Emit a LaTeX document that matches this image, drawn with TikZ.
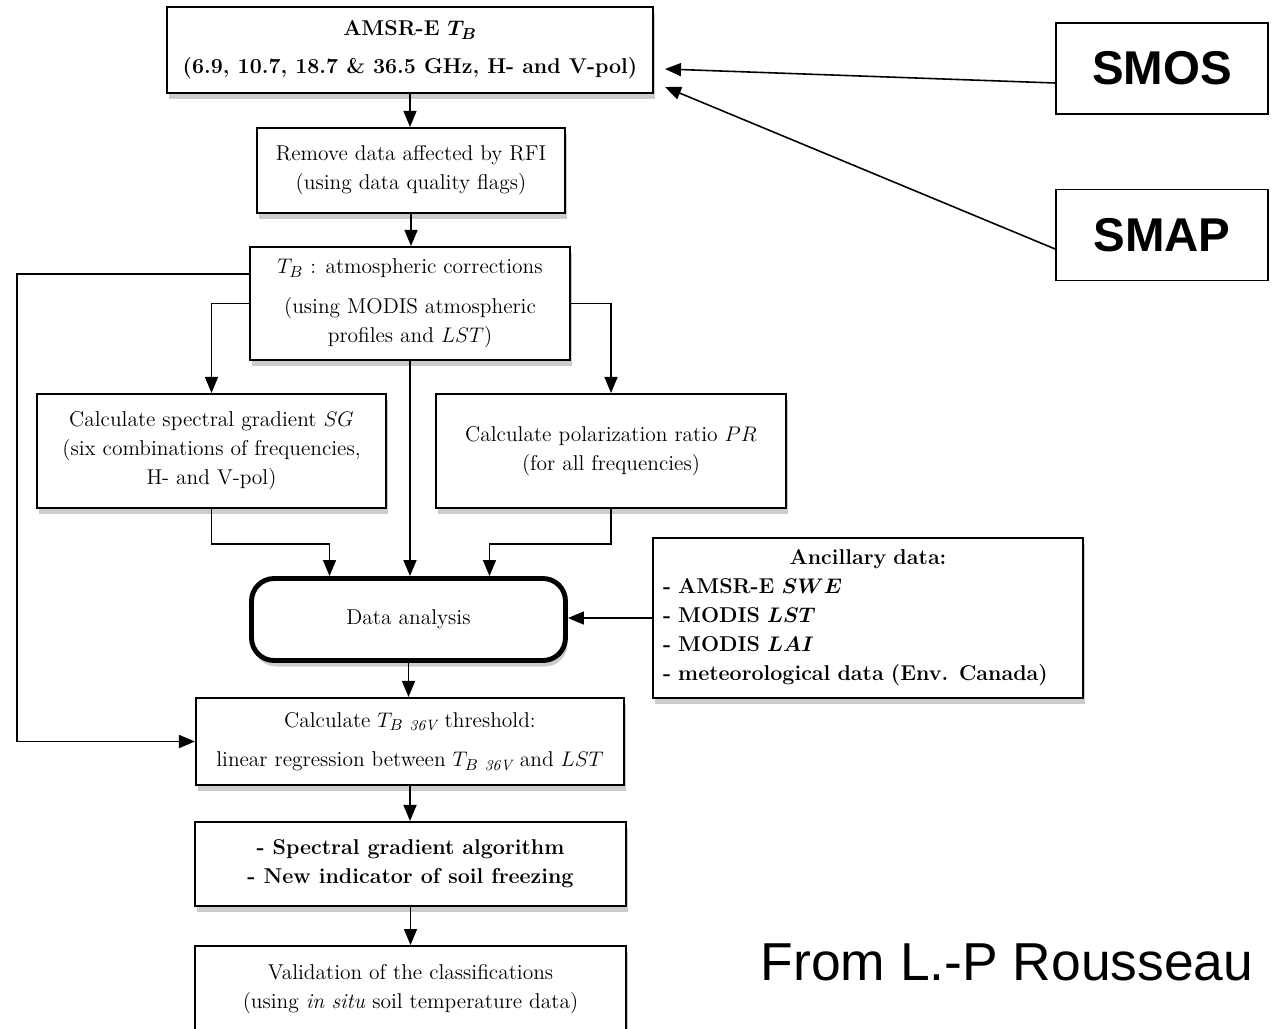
\documentclass[tikz,border=0pt]{standalone}
\usepackage{fontspec}
\usepackage{tikz}
\usetikzlibrary{arrows.meta,shadows}
\newfontfamily\slidefont{Liberation Sans}

\begin{document}
\begin{tikzpicture}[x=0.02cm, y=-0.02cm, box/.style = {shape=rectangle, draw, line width=1.2pt, align=center, fill=white, inner sep=0pt, font=\fontsize{12.2}{16.5}\selectfont, drop shadow={shadow xshift=0.04cm, shadow yshift=-0.12cm, opacity=0.4}}, boldbox/.style = {box, font=\fontsize{12.2}{16.5}\selectfont\bfseries\boldmath}, slidebox/.style = {shape=rectangle, draw, line width=1pt, fill=white, font=\slidefont\fontsize{27}{30}\selectfont\bfseries}, arr/.style = {-{Triangle[length=0.32cm, width=0.26cm]}, line width=0.9pt}]
	\useasboundingbox (0,0) rectangle (1273,1028);
	\node[boldbox, minimum width=9.72cm, minimum height=1.72cm] (amsr) at (410,50) {AMSR-E $T_B$\\[5pt](6.9, 10.7, 18.7 \& 36.5 GHz, H- and V-pol)};
	\node[box, minimum width=6.16cm, minimum height=1.7cm] (rfi) at (411,170.5) {Remove data affected by RFI\\(using data quality flags)};
	\node[box, minimum width=6.4cm, minimum height=2.26cm] (atm) at (410,303.5) {$T_B$ : atmospheric corrections\\[6pt](using MODIS atmospheric\\profiles and $LST$)};
	\node[box, minimum width=6.98cm, minimum height=2.28cm] (sg) at (211.5,451) {Calculate spectral gradient $SG$\\(six combinations of frequencies,\\H- and V-pol)};
	\node[box, minimum width=7cm, minimum height=2.28cm] (pr) at (611,451) {Calculate polarization ratio $PR$\\(for all frequencies)};
	\node[box, rounded corners=0.45cm, line width=2.8pt, minimum width=6.28cm, minimum height=1.64cm] (da) at (408.5,619.5) {Data analysis};
	\node[boldbox, align=left, text width=8.2cm, minimum height=3.2cm, inner xsep=0.2cm] (anc) at (868,618) {\hspace*{\fill}Ancillary data:\hspace*{\fill}\mbox{}\\- AMSR-E $SWE$\\- MODIS $LST$\\- MODIS $LAI$\\- meteorological data (Env. Canada)};
	\node[box, minimum width=8.56cm, minimum height=1.74cm] (thr) at (410,741.5) {Calculate $T_{B\ \mathit{36V}}$ threshold:\\[6pt]linear regression between $T_{B\ \mathit{36V}}$ and $LST$};
	\node[boldbox, minimum width=8.62cm, minimum height=1.68cm] (alg) at (410.5,864) {- Spectral gradient algorithm\\- New indicator of soil freezing};
	\node[box, anchor=north, minimum width=8.62cm, inner ysep=0.36cm, text depth=1.6cm] (val) at (410.5,945) {Validation of the classifications\\(using \textit{in situ} soil temperature data)};
	\node[slidebox, minimum width=4.24cm, minimum height=1.82cm] (smos) at (1162,68.5) {SMOS};
	\node[slidebox, minimum width=4.24cm, minimum height=1.82cm] (smap) at (1162,235) {SMAP};
	\node[font=\slidefont\fontsize{30.4}{34}\selectfont] (from) at (1007,962) {From L.-P Rousseau};
	\coordinate (loop) at (17,274);
	\draw[arr] (amsr.south) -- (amsr.south |- rfi.north);
	\draw[arr] (rfi.south) -- (rfi.south |- atm.north);
	\draw[arr] (atm.west |- loop) -- (loop) |- (thr.west);
	\draw[arr] (atm.west) -| (sg.north);
	\draw[arr] (atm.east) -| (pr.north);
	\draw[arr] (atm.south) -- (atm.south |- da.north);
	\draw[arr] (sg.south) -- ++(0,35) -| ([xshift=-1.58cm]da.north);
	\draw[arr] (pr.south) -- ++(0,35) -| ([xshift=1.62cm]da.north);
	\draw[arr] (anc.west) -- (anc.west -| da.east);
	\draw[arr] (da.south) -- (da.south |- thr.north);
	\draw[arr] (thr.south) -- (thr.south |- alg.north);
	\draw[arr] (alg.south) -- (alg.south |- val.north);
	\draw[arr] ([yshift=-0.29cm]smos.west) -- ([xshift=0.22cm, yshift=-0.38cm]amsr.east);
	\draw[arr] ([yshift=-0.28cm]smap.west) -- ([xshift=0.22cm, yshift=-0.74cm]amsr.east);
\end{tikzpicture}
\end{document}
